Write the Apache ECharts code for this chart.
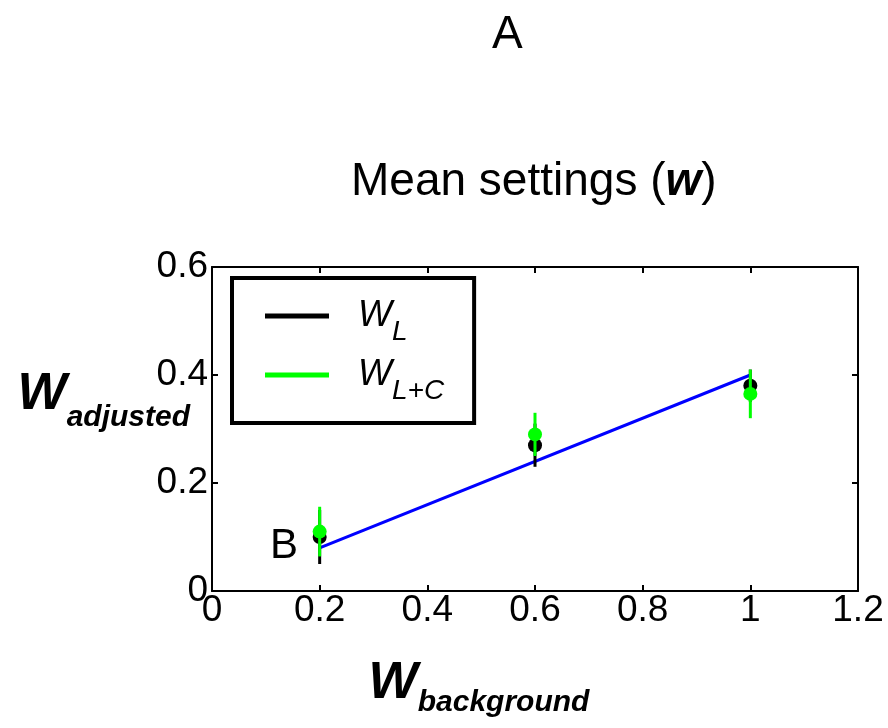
<!DOCTYPE html>
<html><head><meta charset="utf-8">
<script src="https://cdn.jsdelivr.net/npm/echarts@6/dist/echarts.min.js"></script>
<style>html,body{margin:0;padding:0;background:#fff}#c{width:888px;height:728px}</style>
</head><body><div id="c"></div>
<script>
// ---- data ----
const xValues = [0.2, 0.6, 1.0];          // W_background
const wL      = [0.10, 0.27, 0.38];       // W_L means
const wLErr   = [0.05, 0.04, 0.03];       // W_L half error bars
const wLC     = [0.11, 0.29, 0.365];      // W_L+C means
const wLCErr  = [0.046, 0.04, 0.045];     // W_L+C half error bars
const fitX    = [0.2, 1.0];               // blue reference line
const fitY    = [0.08, 0.40];
const seriesNames = ['W_L', 'W_L+C'];
const xRange = [0, 1.2, 0.2];             // min, max, interval
const yRange = [0, 0.6, 0.2];
const titleText = 'Mean settings';
const panelLabel = 'A';
const pointLabel = 'B';

const FONT = 'Liberation Sans, Arial, Helvetica, sans-serif';

const pts = (ys) => xValues.map((x, i) => [x, ys[i]]);
const bars = (ys, es) => xValues.map((x, i) => [x, ys[i] - es[i], ys[i] + es[i]]);
const fitData = fitX.map((x, i) => [x, fitY[i]]);

function errRender(color) {
  return function (params, api) {
    const x = api.value(0), lo = api.value(1), hi = api.value(2);
    const p1 = api.coord([x, lo]), p2 = api.coord([x, hi]);
    return { type: 'line', shape: { x1: p1[0], y1: p1[1], x2: p2[0], y2: p2[1] },
             style: { stroke: color, lineWidth: 3 } };
  };
}

const axisCommon = {
  type: 'value',
  axisLine: { show: true, onZero: false, lineStyle: { color: '#000', width: 2 } },
  axisTick: { show: true, inside: true, length: 6, lineStyle: { color: '#000', width: 2 } },
  splitLine: { show: false },
};

function subRich(drop) {
  return {
    w: { fontFamily: FONT, fontSize: 52, fontWeight: 'bold', fontStyle: 'italic', color: '#000', lineHeight: 52, verticalAlign: 'top' },
    s: { fontFamily: FONT, fontSize: 30, fontWeight: 'bold', fontStyle: 'italic', color: '#000', lineHeight: 52, verticalAlign: 'top', padding: [drop, 0, 0, 0] }
  };
}

const chart = echarts.init(document.getElementById('c'), null, { renderer: 'canvas' });
chart.setOption({
  backgroundColor: '#fff',
  animation: false,
  title: [
    { text: panelLabel, left: 487, top: 7, textStyle: { fontFamily: FONT, fontSize: 46, fontWeight: 'normal', color: '#000' } },
    { text: titleText + ' ({b|w})', left: 346, top: 154,
      textStyle: { fontFamily: FONT, fontSize: 46, fontWeight: 'normal', color: '#000',
        rich: { b: { fontFamily: FONT, fontSize: 46, fontWeight: 'bold', fontStyle: 'italic', color: '#000' } } } }
  ],
  grid: { left: 212, right: 30, top: 267, bottom: 137, outerBoundsMode: 'none' },
  legend: {
    data: seriesNames,
    orient: 'vertical', left: 232, top: 278,
    padding: [20, 30, 18, 33], itemGap: 11,
    borderColor: '#000', borderWidth: 4,
    icon: 'rect', itemWidth: 64, itemHeight: 5,
    formatter: (name) => { const p = name.split('_'); return '{w|' + p[0] + '}{s|' + p[1] + '}'; },
    textStyle: {
      rich: {
        w: { fontFamily: FONT, fontSize: 36, fontStyle: 'italic', color: '#000', lineHeight: 36, verticalAlign: 'top', padding: [0, 0, 0, 24] },
        s: { fontFamily: FONT, fontSize: 28, fontStyle: 'italic', color: '#000', lineHeight: 36, verticalAlign: 'top', padding: [20, 0, 0, 0] }
      }
    }
  },
  xAxis: [
    Object.assign({}, axisCommon, {
      position: 'bottom', min: xRange[0], max: xRange[1], interval: xRange[2],
      axisLabel: { fontFamily: FONT, fontSize: 37, color: '#000', margin: 1 },
      name: '{w|W}{s|background}', nameLocation: 'middle', nameGap: 67, nameMoveOverlap: false,
      nameTextStyle: { padding: [0, 112, 0, 0], rich: subRich(30) }
    }),
    Object.assign({}, axisCommon, {
      position: 'top', min: xRange[0], max: xRange[1], interval: xRange[2],
      axisLabel: { show: false }
    })
  ],
  yAxis: [
    Object.assign({}, axisCommon, {
      position: 'left', min: yRange[0], max: yRange[1], interval: yRange[2],
      axisLabel: { fontFamily: FONT, fontSize: 37, color: '#000', margin: 4 },
      name: '{w|W}{s|adjusted}', nameLocation: 'middle', nameRotate: 0, nameGap: 22, nameMoveOverlap: false,
      nameTextStyle: { padding: [0, 0, 68, 0], rich: subRich(34) }
    }),
    Object.assign({}, axisCommon, {
      position: 'right', min: yRange[0], max: yRange[1], interval: yRange[2],
      axisLabel: { show: false }
    })
  ],
  graphic: [
    { type: 'text', left: 270, top: 525, style: { text: pointLabel, fontFamily: FONT, fontSize: 42, fill: '#000' } }
  ],
  series: [
    { name: 'fit', type: 'line', data: fitData, symbol: 'none', z: 2,
      lineStyle: { color: '#0000ff', width: 3 }, itemStyle: { color: '#0000ff' } },
    { name: 'W_L err', type: 'custom', data: bars(wL, wLErr), renderItem: errRender('#000000'),
      encode: { x: 0, y: [1, 2] }, z: 3 },
    { name: seriesNames[0], type: 'scatter', data: pts(wL), symbol: 'circle', symbolSize: 14, z: 4,
      itemStyle: { color: '#000000', opacity: 1 } },
    { name: 'W_L+C err', type: 'custom', data: bars(wLC, wLCErr), renderItem: errRender('#00ff00'),
      encode: { x: 0, y: [1, 2] }, z: 5 },
    { name: seriesNames[1], type: 'scatter', data: pts(wLC), symbol: 'circle', symbolSize: 14, z: 6,
      itemStyle: { color: '#00ff00', opacity: 1 } }
  ]
});
</script></body></html>
